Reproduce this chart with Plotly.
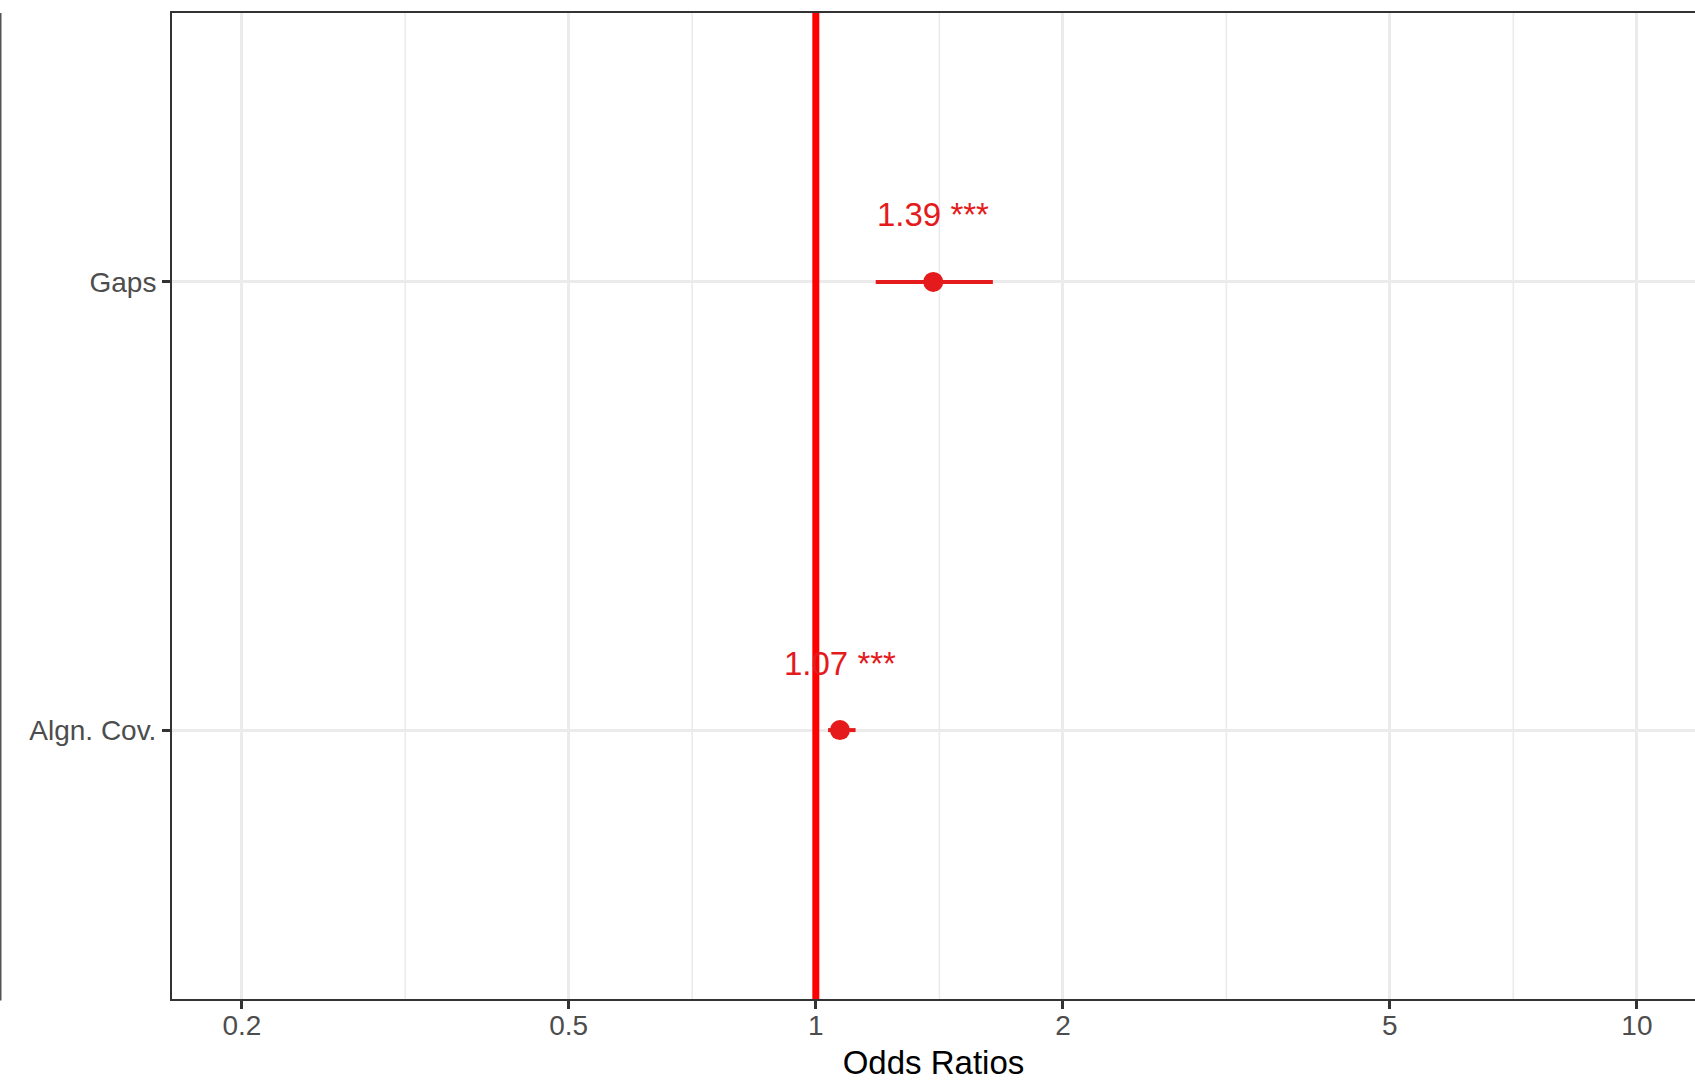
import numpy as np
import plotly.graph_objects as go

# ---- data ----
terms = ["Gaps", "Algn. Cov."]
odds_ratios = [1.39, 1.07]
ci_low = [1.183, 1.035]
ci_high = [1.643, 1.118]
labels = ["1.39 ***", "1.07 ***"]
y_pos = [2, 1]
x_ticks = [0.2, 0.5, 1, 2, 5, 10]
x_tick_text = ["0.2", "0.5", "1", "2", "5", "10"]
x_minor = [0.1414, 0.3162, 0.7071, 1.4142, 3.1623, 7.0711, 14.142]
ref_value = 1

W, H = 1695, 1081
L, T, B = 172, 13, 82
y_lo, y_hi = 0.4, 2.6
x_range = [np.log10(0.1644), np.log10(11.77)]

point_col = "#E41A1C"
ref_col = "#FF0000"
grid_col = "#EBEBEB"
font_fam = "Liberation Sans, Arial, Helvetica, sans-serif"

fig = go.Figure()

# minor gridlines
for v in x_minor:
    fig.add_trace(go.Scatter(x=[v, v], y=[y_lo, y_hi], mode="lines",
                             line=dict(color=grid_col, width=1.6),
                             hoverinfo="skip", showlegend=False))

# reference line
fig.add_trace(go.Scatter(x=[ref_value, ref_value], y=[y_lo, y_hi], mode="lines",
                         line=dict(color=ref_col, width=7),
                         hoverinfo="skip", showlegend=False))

# points with CI
fig.add_trace(go.Scatter(
    x=odds_ratios, y=y_pos, mode="markers",
    marker=dict(color=point_col, size=20),
    error_x=dict(type="data", symmetric=False,
                 array=[h - o for h, o in zip(ci_high, odds_ratios)],
                 arrayminus=[o - l for o, l in zip(odds_ratios, ci_low)],
                 color=point_col, thickness=4, width=0),
    showlegend=False))

for o, yv, lab in zip(odds_ratios, y_pos, labels):
    fig.add_annotation(x=np.log10(o), y=yv, text=lab, showarrow=False,
                       yshift=67, font=dict(color=point_col, size=33, family=font_fam))

# cropped neighbouring panel edge at far left
fig.add_shape(type="line", xref="paper", yref="paper",
              x0=-(L - 0.5) / (W - L), x1=-(L - 0.5) / (W - L),
              y0=-1.5 / (H - T - B), y1=1.0,
              line=dict(color="#555555", width=2))

fig.update_layout(
    width=W, height=H,
    margin=dict(l=L, r=0, t=T, b=B, autoexpand=False),
    plot_bgcolor="white", paper_bgcolor="white",
    font=dict(family=font_fam),
    xaxis=dict(type="log", range=x_range, tickvals=x_ticks, ticktext=x_tick_text,
               automargin=False,
               showgrid=True, gridcolor=grid_col, gridwidth=3,
               showline=True, linecolor="#333333", linewidth=2, mirror=True,
               ticks="outside", ticklen=8, tickwidth=2.5, tickcolor="#333333",
               ticklabelstandoff=-8,
               tickfont=dict(size=28, color="#4D4D4D", family=font_fam),
               title=dict(text="Odds Ratios", standoff=11,
                          font=dict(size=33, color="black", family=font_fam)),
               zeroline=False),
    yaxis=dict(range=[y_lo, y_hi], tickvals=y_pos, ticktext=terms,
               automargin=False,
               showgrid=True, gridcolor=grid_col, gridwidth=3,
               showline=True, linecolor="#333333", linewidth=2, mirror=False,
               ticks="outside", ticklen=8, tickwidth=2.5, tickcolor="#333333",
               tickfont=dict(size=28, color="#4D4D4D", family=font_fam),
               zeroline=False),
)

fig.write_html("out.html", config={"displayModeBar": False},
               post_script="document.body.style.margin='0';document.body.style.overflow='hidden';")
